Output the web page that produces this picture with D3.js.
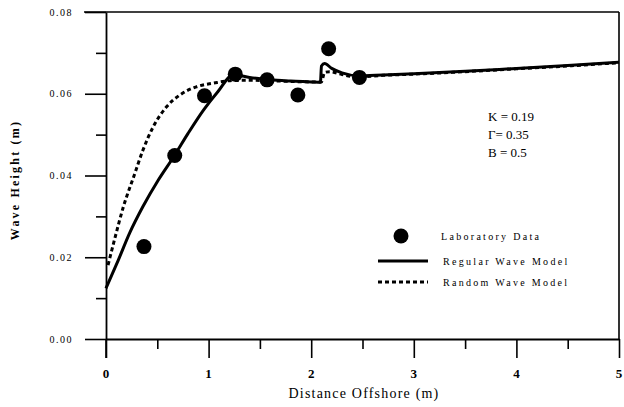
<!DOCTYPE html>
<html>
	<head>
		<meta charset="utf-8">
		<script src="https://cdn.jsdelivr.net/npm/d3@7"></script>
		<style>
			body { margin: 0; background: #fff; }
			text { font-family: "Liberation Serif", "DejaVu Serif", serif; fill: #000; }
		</style>
	</head>
	<body>
		<script>
			// laboratory measurements
			var labX = [0.37, 0.67, 0.96, 1.26, 1.57, 1.87, 2.17, 2.47];
			var labH = [0.0226, 0.0449, 0.0595, 0.0648, 0.0634, 0.0597, 0.0710, 0.0640];

			// regular wave model (solid)
			var regX = [0, 0.12, 0.23, 0.36, 0.51, 0.66, 0.80, 0.95, 1.09, 1.24, 1.40, 1.60, 1.80, 2.00, 2.09, 2.10, 2.13, 2.20, 2.30, 2.45, 2.70, 3.0, 3.5, 4.0, 4.5, 5.0];
			var regH = [0.0124, 0.0193, 0.0259, 0.0324, 0.0389, 0.0446, 0.0503, 0.0560, 0.0605, 0.0646, 0.0640, 0.0634, 0.0631, 0.0629, 0.0628, 0.0668, 0.0674, 0.0662, 0.0651, 0.0644, 0.0646, 0.0649, 0.0655, 0.0662, 0.0669, 0.0677];

			// random wave model (dashed)
			var ranX = [0.02, 0.09, 0.17, 0.27, 0.36, 0.46, 0.59, 0.72, 0.88, 1.05, 1.21, 1.40, 1.70, 2.00, 2.10, 2.13, 2.18, 2.30, 2.45, 2.70, 3.0, 3.5, 4.0, 4.5, 5.0];
			var ranH = [0.0181, 0.0250, 0.0324, 0.0397, 0.0462, 0.0519, 0.0568, 0.0597, 0.0617, 0.0626, 0.0632, 0.0633, 0.0631, 0.0629, 0.0629, 0.0652, 0.0654, 0.0647, 0.0641, 0.0645, 0.0648, 0.0654, 0.0661, 0.0668, 0.0676];

			var xTicks = [0, 1, 2, 3, 4, 5];
			var yTicks = [0.00, 0.02, 0.04, 0.06, 0.08];
			var params = ["K = 0.19", "\u0393= 0.35", "B = 0.5"];
			var legendLabels = ["Laboratory Data", "Regular Wave Model", "Random Wave Model"];

			var svg = d3.select("body").append("svg")
				.attr("width", 624)
				.attr("height", 407);

			var x = d3.scaleLinear().domain([0, 5]).range([106, 619]);
			var y = d3.scaleLinear().domain([0, 0.08]).range([339, 12]);

			// frame: top and right
			svg.append("line").attr("x1", 84).attr("x2", x(5)).attr("y1", y(0.08)).attr("y2", y(0.08))
				.attr("stroke", "#000").attr("stroke-width", 1.6);
			svg.append("line").attr("x1", x(5)).attr("x2", x(5)).attr("y1", y(0.08)).attr("y2", y(0))
				.attr("stroke", "#000").attr("stroke-width", 1.6);

			// x axis, ticks point down
			var xAxis = svg.append("g").attr("transform", "translate(0," + y(0) + ")")
				.call(d3.axisBottom(x).tickValues(d3.range(0, 5.01, 0.5)).tickSizeInner(0).tickSizeOuter(0).tickFormat(""));
			xAxis.select(".domain").attr("stroke-width", 1.8);
			xAxis.selectAll(".tick line")
				.attr("y2", function(d) { return Number.isInteger(d) ? 19 : 10; })
				.attr("stroke-width", 1.6);
			svg.selectAll(".xlab").data(xTicks).enter().append("text")
				.attr("x", function(d) { return x(d); })
				.attr("y", 378)
				.attr("text-anchor", "middle")
				.style("font-size", "13px")
				.style("font-weight", "bold")
				.text(function(d) { return d; });

			// y axis, ticks point left
			var yAxis = svg.append("g").attr("transform", "translate(" + x(0) + ",0)")
				.call(d3.axisLeft(y).tickValues(d3.range(0, 0.0801, 0.01)).tickSizeInner(0).tickSizeOuter(0).tickFormat(""));
			yAxis.select(".domain").attr("stroke-width", 1.8);
			yAxis.selectAll(".tick line")
				.attr("x2", function(d) { return Math.abs(d / 0.02 - Math.round(d / 0.02)) < 1e-6 ? -21 : -10; })
				.attr("stroke-width", 1.6);
			// the 0 tick also runs below the axis
			svg.append("line").attr("x1", x(0)).attr("x2", x(0)).attr("y1", y(0)).attr("y2", y(0) + 19)
				.attr("stroke", "#000").attr("stroke-width", 1.6);
			svg.selectAll(".ylab").data(yTicks).enter().append("text")
				.attr("x", 73)
				.attr("y", function(d) { return y(d) + 3.5; })
				.attr("text-anchor", "end")
				.style("font-size", "10px")
				.style("letter-spacing", "1.5px")
				.text(function(d) { return d.toFixed(2); });

			// axis titles
			svg.append("text")
				.attr("x", 364).attr("y", 398)
				.attr("text-anchor", "middle")
				.style("font-size", "14px")
				.style("letter-spacing", "1.2px")
				.text("Distance Offshore (m)");
			svg.append("text")
				.attr("transform", "translate(19,180) rotate(-90)")
				.attr("text-anchor", "middle")
				.style("font-size", "12px")
				.style("font-weight", "bold")
				.style("letter-spacing", "2.2px")
				.text("Wave Height (m)");

			// model curves
			var line = d3.line().x(function(d) { return x(d[0]); }).y(function(d) { return y(d[1]); }).curve(d3.curveMonotoneX);
			svg.append("path")
				.datum(d3.zip(ranX, ranH))
				.attr("d", line)
				.attr("fill", "none")
				.attr("stroke", "#000")
				.attr("stroke-width", 3)
				.attr("stroke-dasharray", "4,3");
			svg.append("path")
				.datum(d3.zip(regX, regH))
				.attr("d", line)
				.attr("fill", "none")
				.attr("stroke", "#000")
				.attr("stroke-width", 3);

			// lab data
			svg.selectAll(".pt").data(d3.zip(labX, labH)).enter().append("circle")
				.attr("cx", function(d) { return x(d[0]); })
				.attr("cy", function(d) { return y(d[1]); })
				.attr("r", 7.5)
				.attr("fill", "#000");

			// parameter block
			svg.selectAll(".param").data(params).enter().append("text")
				.attr("x", 488)
				.attr("y", function(d, i) { return 121 + i * 18; })
				.style("font-size", "13px")
				.text(function(d) { return d; });

			// legend
			var lg = svg.append("g");
			lg.append("circle").attr("cx", 401).attr("cy", 236).attr("r", 7.5).attr("fill", "#000");
			lg.append("line").attr("x1", 378).attr("x2", 428).attr("y1", 261).attr("y2", 261)
				.attr("stroke", "#000").attr("stroke-width", 3);
			lg.append("line").attr("x1", 378).attr("x2", 428).attr("y1", 282).attr("y2", 282)
				.attr("stroke", "#000").attr("stroke-width", 3).attr("stroke-dasharray", "4,3");
			lg.selectAll(".lgtext").data(legendLabels).enter().append("text")
				.attr("x", function(d, i) { return i === 0 ? 441 : 443; })
				.attr("y", function(d, i) { return [240, 265, 286][i]; })
				.style("font-size", "10px")
				.style("letter-spacing", "2.3px")
				.text(function(d) { return d; });
		</script>
	</body>
</html>
